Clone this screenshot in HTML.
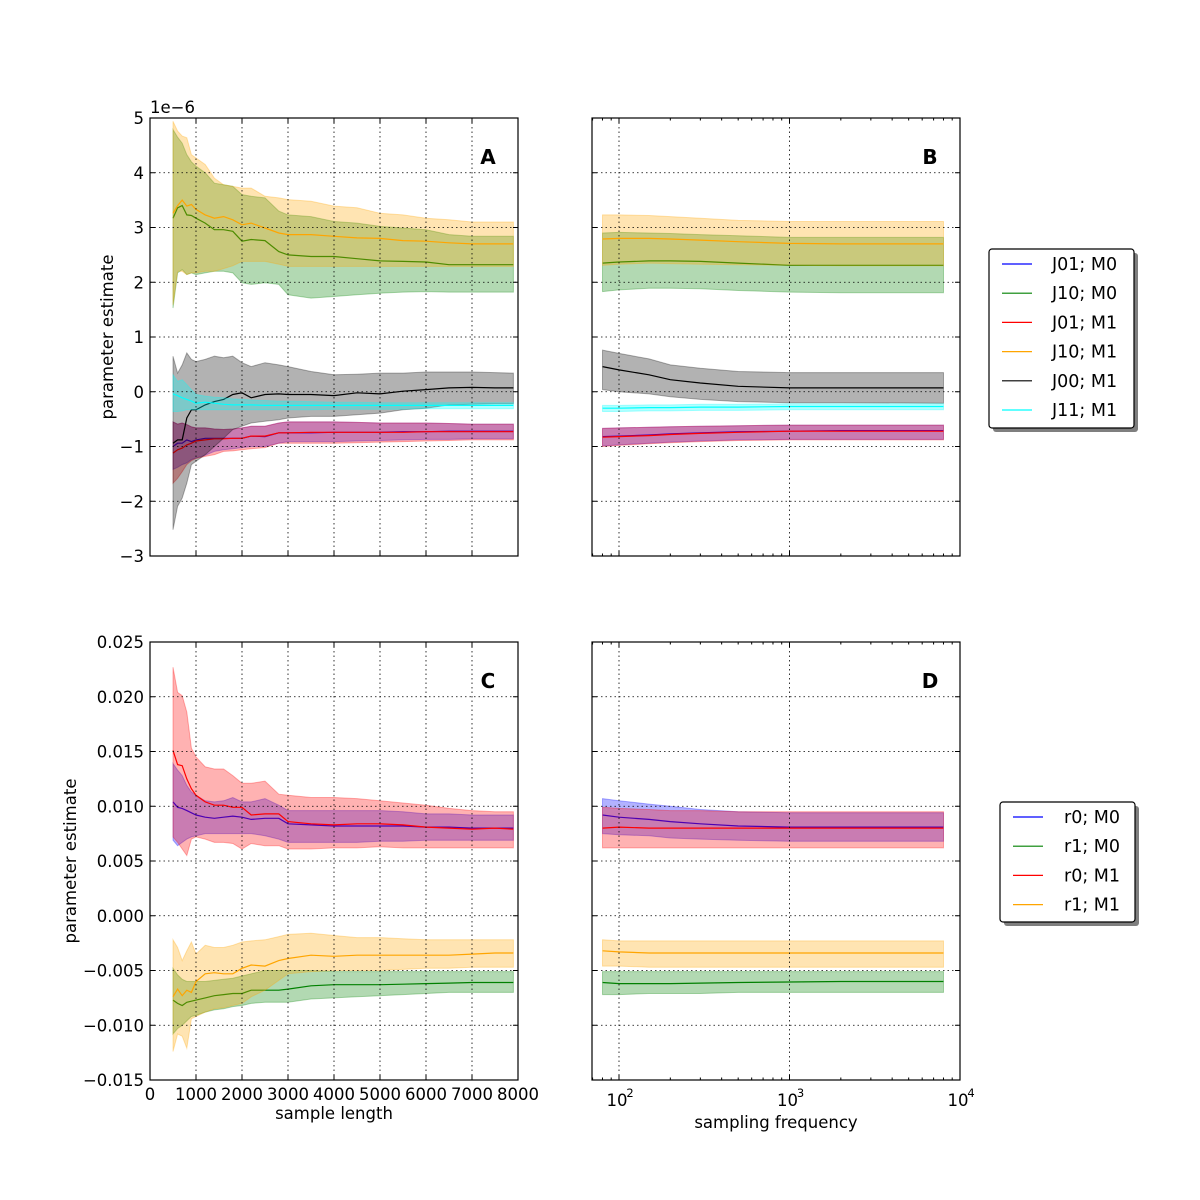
<!DOCTYPE html>
<html><head><meta charset="utf-8">
<style>
body{margin:0;background:#fff;}
svg{display:block;font-family:"DejaVu Sans","Liberation Sans",sans-serif;}
</style></head>
<body>
<svg id="fig" width="1200" height="1200" viewBox="0 0 1200 1200" xmlns="http://www.w3.org/2000/svg"></svg>
<script>
// ---- shared x data ----
const sampleLengths = [500,600,700,800,900,1000,1200,1400,1600,1800,2000,2200,2500,2800,3000,3500,4000,4500,5000,5500,6000,6500,7000,7500,7900];
const freqs = [80,100,150,200,300,500,1000,2000,8000];
// ---- Panel A (units 1e-6) ----
const aJ01M0Mean = [-1.0,-0.94,-0.94,-0.88,-0.91,-0.88,-0.85,-0.85,-0.85,-0.85,-0.85,-0.81,-0.82,-0.75,-0.75,-0.75,-0.74,-0.74,-0.74,-0.73,-0.73,-0.72,-0.72,-0.72,-0.72];
const aJ01M0Hi = [-0.55,-0.59,-0.57,-0.60,-0.64,-0.66,-0.66,-0.68,-0.69,-0.68,-0.66,-0.63,-0.63,-0.57,-0.55,-0.55,-0.55,-0.56,-0.57,-0.57,-0.57,-0.58,-0.59,-0.59,-0.59];
const aJ01M0Lo = [-1.42,-1.38,-1.33,-1.30,-1.24,-1.21,-1.16,-1.09,-1.06,-1.04,-1.02,-1.0,-1.0,-0.94,-0.91,-0.91,-0.91,-0.90,-0.89,-0.88,-0.87,-0.87,-0.86,-0.86,-0.86];
const aJ10M0Mean = [3.17,3.36,3.40,3.23,3.22,3.17,3.08,2.96,2.96,2.93,2.75,2.78,2.76,2.56,2.50,2.47,2.47,2.43,2.39,2.38,2.37,2.32,2.32,2.32,2.32];
const aJ10M0Hi = [4.79,4.65,4.54,4.33,4.20,4.12,4.00,3.81,3.78,3.75,3.60,3.57,3.54,3.30,3.23,3.20,3.11,3.08,3.02,2.99,2.96,2.87,2.84,2.84,2.84];
const aJ10M0Lo = [1.53,2.17,2.23,2.14,2.17,2.14,2.17,2.20,2.20,2.17,1.99,1.96,1.99,1.96,1.77,1.71,1.74,1.77,1.80,1.82,1.83,1.82,1.82,1.82,1.82];
const aJ01M1Mean = [-1.12,-1.06,-1.03,-0.97,-0.94,-0.90,-0.88,-0.86,-0.86,-0.85,-0.85,-0.81,-0.81,-0.75,-0.75,-0.74,-0.74,-0.74,-0.74,-0.74,-0.73,-0.73,-0.73,-0.73,-0.73];
const aJ01M1Hi = [-0.55,-0.59,-0.57,-0.60,-0.64,-0.66,-0.66,-0.68,-0.69,-0.68,-0.66,-0.63,-0.63,-0.57,-0.55,-0.55,-0.55,-0.56,-0.57,-0.57,-0.57,-0.58,-0.59,-0.59,-0.59];
const aJ01M1Lo = [-1.67,-1.58,-1.46,-1.33,-1.26,-1.22,-1.18,-1.15,-1.09,-1.08,-1.06,-1.04,-1.02,-0.94,-0.94,-0.94,-0.94,-0.93,-0.92,-0.91,-0.90,-0.89,-0.88,-0.88,-0.88];
const aJ10M1Mean = [3.26,3.40,3.50,3.39,3.42,3.33,3.23,3.17,3.20,3.14,3.05,3.08,2.99,2.90,2.87,2.87,2.84,2.81,2.80,2.76,2.75,2.72,2.70,2.70,2.70];
const aJ10M1Hi = [4.94,4.76,4.67,4.64,4.33,4.27,4.15,3.90,3.78,3.75,3.72,3.72,3.57,3.54,3.51,3.48,3.39,3.36,3.26,3.23,3.17,3.14,3.10,3.10,3.10];
const aJ10M1Lo = [1.59,2.20,2.20,2.14,2.17,2.17,2.20,2.20,2.25,2.30,2.38,2.38,2.38,2.33,2.29,2.29,2.29,2.29,2.29,2.29,2.29,2.29,2.29,2.29,2.29];
const aJ00M1Mean = [-0.94,-0.88,-0.88,-0.48,-0.33,-0.33,-0.24,-0.18,-0.14,-0.05,-0.02,-0.11,-0.05,-0.04,-0.05,-0.05,-0.07,-0.02,-0.04,0.01,0.04,0.07,0.08,0.07,0.07];
const aJ00M1Hi = [0.65,0.34,0.49,0.71,0.59,0.55,0.59,0.65,0.62,0.65,0.53,0.46,0.53,0.49,0.46,0.37,0.31,0.32,0.34,0.34,0.36,0.36,0.36,0.35,0.34];
const aJ00M1Lo = [-2.52,-2.09,-1.94,-1.67,-1.33,-1.27,-1.15,-1.0,-0.85,-0.69,-0.63,-0.57,-0.54,-0.51,-0.48,-0.45,-0.45,-0.42,-0.39,-0.33,-0.30,-0.24,-0.23,-0.22,-0.22];
const aJ11M1Mean = [-0.04,-0.07,-0.11,-0.14,-0.17,-0.21,-0.19,-0.21,-0.23,-0.24,-0.24,-0.24,-0.25,-0.25,-0.25,-0.25,-0.25,-0.25,-0.25,-0.25,-0.25,-0.25,-0.25,-0.25,-0.25];
const aJ11M1Hi = [0.31,0.19,0.22,0.13,0.04,-0.05,-0.08,-0.10,-0.11,-0.13,-0.14,-0.15,-0.16,-0.17,-0.17,-0.18,-0.19,-0.19,-0.2,-0.2,-0.2,-0.2,-0.2,-0.2,-0.2];
const aJ11M1Lo = [-0.36,-0.36,-0.35,-0.33,-0.33,-0.33,-0.33,-0.33,-0.33,-0.33,-0.33,-0.33,-0.33,-0.33,-0.33,-0.33,-0.32,-0.32,-0.32,-0.32,-0.31,-0.31,-0.31,-0.31,-0.31];
// ---- Panel B (units 1e-6) ----
const bJ01M0Mean = [-0.82,-0.81,-0.79,-0.77,-0.75,-0.73,-0.72,-0.71,-0.71];
const bJ01M0Hi = [-0.67,-0.66,-0.65,-0.64,-0.63,-0.62,-0.61,-0.61,-0.61];
const bJ01M0Lo = [-0.99,-0.97,-0.94,-0.92,-0.90,-0.88,-0.87,-0.87,-0.87];
const bJ10M0Mean = [2.35,2.37,2.39,2.39,2.38,2.35,2.31,2.31,2.31];
const bJ10M0Hi = [2.90,2.91,2.90,2.89,2.87,2.85,2.82,2.82,2.82];
const bJ10M0Lo = [1.83,1.86,1.89,1.89,1.88,1.85,1.82,1.81,1.81];
const bJ01M1Mean = [-0.83,-0.82,-0.80,-0.78,-0.76,-0.74,-0.72,-0.72,-0.72];
const bJ01M1Hi = [-0.67,-0.66,-0.65,-0.64,-0.63,-0.62,-0.61,-0.61,-0.61];
const bJ01M1Lo = [-1.0,-0.98,-0.95,-0.93,-0.91,-0.89,-0.88,-0.88,-0.88];
const bJ10M1Mean = [2.79,2.80,2.80,2.79,2.77,2.74,2.71,2.70,2.70];
const bJ10M1Hi = [3.23,3.23,3.22,3.20,3.17,3.13,3.11,3.11,3.11];
const bJ10M1Lo = [2.31,2.33,2.35,2.34,2.33,2.32,2.31,2.30,2.30];
const bJ00M1Mean = [0.46,0.40,0.31,0.22,0.16,0.10,0.07,0.07,0.07];
const bJ00M1Hi = [0.76,0.70,0.60,0.49,0.43,0.37,0.35,0.35,0.35];
const bJ00M1Lo = [0.04,0.0,-0.04,-0.09,-0.14,-0.18,-0.20,-0.20,-0.21];
const bJ11M1Mean = [-0.30,-0.30,-0.29,-0.29,-0.28,-0.28,-0.27,-0.27,-0.27];
const bJ11M1Hi = [-0.25,-0.25,-0.24,-0.24,-0.23,-0.23,-0.22,-0.22,-0.22];
const bJ11M1Lo = [-0.36,-0.36,-0.35,-0.35,-0.34,-0.34,-0.33,-0.33,-0.33];
// ---- Panel C (units 1e-3) ----
const cR0M0Mean = [10.4,9.9,9.8,9.6,9.4,9.2,9.0,8.9,9.0,9.1,9.0,8.8,8.9,8.9,8.4,8.3,8.2,8.2,8.2,8.2,8.1,8.1,8.0,8.0,8.0];
const cR0M0Hi = [13.9,13.3,12.8,11.9,11.3,11.0,10.5,10.4,10.5,10.8,10.4,10.4,10.7,10.1,9.6,9.6,9.6,9.6,9.6,9.5,9.3,9.3,9.2,9.2,9.2];
const cR0M0Lo = [6.9,6.4,6.7,7.0,7.2,7.3,7.5,7.5,7.5,7.5,7.5,7.5,7.3,7.0,6.7,6.7,6.7,6.7,6.8,6.8,6.9,6.9,6.9,6.9,6.9];
const cR1M0Mean = [-7.7,-8.0,-8.2,-7.9,-7.8,-7.7,-7.5,-7.3,-7.2,-7.1,-7.1,-6.8,-6.8,-6.8,-6.7,-6.4,-6.3,-6.3,-6.3,-6.25,-6.2,-6.15,-6.1,-6.1,-6.1];
const cR1M0Hi = [-4.8,-5.4,-5.8,-6.0,-6.0,-6.0,-6.0,-5.9,-5.8,-5.7,-5.5,-5.3,-5.0,-5.0,-5.0,-5.0,-5.1,-5.1,-5.1,-5.1,-5.1,-5.1,-5.1,-5.1,-5.1];
const cR1M0Lo = [-10.8,-10.3,-10.0,-9.6,-9.2,-9.1,-8.8,-8.6,-8.5,-8.3,-8.2,-8.0,-7.9,-7.9,-7.9,-7.6,-7.5,-7.4,-7.3,-7.2,-7.1,-7.0,-7.0,-7.0,-7.0];
const cR0M1Mean = [15.1,13.8,13.7,12.5,11.6,11.0,10.4,10.1,10.1,9.9,9.9,9.2,9.3,9.3,8.6,8.4,8.3,8.4,8.4,8.3,8.1,8.0,7.9,8.0,7.9];
const cR0M1Hi = [22.7,20.4,20.1,18.6,15.3,14.5,13.6,13.4,13.4,12.8,12.1,12.1,12.3,11.1,11.0,10.8,10.8,10.7,10.5,10.3,10.1,9.8,9.6,9.5,9.5];
const cR0M1Lo = [7.2,6.7,6.1,5.5,7.0,7.2,7.0,6.7,6.7,6.6,6.1,6.6,6.4,6.4,6.1,6.1,6.2,6.2,6.3,6.2,6.2,6.2,6.2,6.2,6.2];
const cR1M1Mean = [-7.4,-6.7,-7.3,-6.8,-7.0,-6.0,-5.3,-5.2,-5.3,-5.3,-4.8,-4.5,-4.6,-4.1,-3.9,-3.6,-3.7,-3.6,-3.6,-3.6,-3.6,-3.6,-3.5,-3.4,-3.4];
const cR1M1Hi = [-2.2,-2.9,-4.1,-3.2,-2.4,-3.5,-2.7,-2.9,-2.9,-2.7,-2.4,-2.3,-2.2,-1.9,-1.7,-1.6,-1.8,-2.0,-2.0,-2.1,-2.2,-2.2,-2.2,-2.2,-2.2];
const cR1M1Lo = [-12.4,-10.8,-11.0,-12.1,-9.4,-9.2,-8.8,-8.5,-8.4,-8.2,-8.0,-7.4,-6.8,-5.9,-5.3,-5.1,-5.0,-5.0,-5.0,-4.9,-4.8,-4.8,-4.7,-4.7,-4.7];
// ---- Panel D (units 1e-3) ----
const dR0M0Mean = [9.2,9.0,8.8,8.6,8.4,8.2,8.1,8.1,8.1];
const dR0M0Hi = [10.7,10.5,10.2,10.0,9.7,9.5,9.4,9.4,9.4];
const dR0M0Lo = [7.5,7.4,7.3,7.1,7.0,6.9,6.8,6.8,6.8];
const dR1M0Mean = [-6.1,-6.2,-6.2,-6.2,-6.15,-6.1,-6.05,-6.0,-6.0];
const dR1M0Hi = [-5.1,-5.1,-5.1,-5.1,-5.1,-5.1,-5.1,-5.1,-5.1];
const dR1M0Lo = [-7.2,-7.2,-7.1,-7.1,-7.1,-7.0,-7.0,-7.0,-7.0];
const dR0M1Mean = [8.0,8.1,8.0,8.0,8.0,8.0,8.0,8.0,8.0];
const dR0M1Hi = [9.9,9.8,9.7,9.6,9.6,9.5,9.5,9.5,9.5];
const dR0M1Lo = [6.2,6.2,6.2,6.2,6.2,6.2,6.2,6.2,6.2];
const dR1M1Mean = [-3.2,-3.3,-3.4,-3.4,-3.4,-3.4,-3.4,-3.4,-3.4];
const dR1M1Hi = [-2.2,-2.3,-2.3,-2.3,-2.3,-2.3,-2.3,-2.3,-2.3];
const dR1M1Lo = [-4.6,-4.6,-4.7,-4.7,-4.7,-4.7,-4.7,-4.7,-4.7];
// ---- tick labels ----
const aYTicks = [5,4,3,2,1,0,-1,-2,-3];
const aYTickLabels = ["5","4","3","2","1","0","\u22121","\u22122","\u22123"];
const cYTicks = [25,20,15,10,5,0,-5,-10,-15];
const cYTickLabels = ["0.025","0.020","0.015","0.010","0.005","0.000","\u22120.005","\u22120.010","\u22120.015"];
const xLinTicks = [0,1000,2000,3000,4000,5000,6000,7000,8000];
const xLogDecades = [2,3,4];
const legendTop = ["J01; M0","J10; M0","J01; M1","J10; M1","J00; M1","J11; M1"];
const legendBottom = ["r0; M0","r1; M0","r0; M1","r1; M1"];

const NS = "http://www.w3.org/2000/svg";
const fig = document.getElementById('fig');
function el(tag, attrs, parent, text){
  const e = document.createElementNS(NS, tag);
  for (const k in attrs) e.setAttribute(k, attrs[k]);
  if (text !== undefined) e.textContent = text;
  (parent||fig).appendChild(e);
  return e;
}
const COL = {blue:"#0000ff", green:"#008000", red:"#ff0000", orange:"#ffa500", black:"#000000", cyan:"#00ffff"};

// axes geometry
const L1=150,R1=518,L2=592,R2=960,T1=118,B1=556,T2=642,B2=1080;
const xLin = v => L1 + v*(R1-L1)/8000;
const xLog = v => 619 + (Math.log10(v)-2)*170.5;
const yTop = v => T1 + (5-v)*(B1-T1)/8;
const yBot = v => T2 + (25-v)*(B2-T2)/40;

function drawSeries(g, xs, mean, hi, lo, fx, fy, color, name){
  let pts = xs.map((x,i)=>fx(x).toFixed(1)+","+fy(hi[i]).toFixed(1));
  for (let i=xs.length-1;i>=0;i--) pts.push(fx(xs[i]).toFixed(1)+","+fy(lo[i]).toFixed(1));
  const band = el('polygon',{points:pts.join(' '),fill:color,'fill-opacity':0.3,stroke:color,'stroke-opacity':0.3,'stroke-width':1},g);
  
  
  const line = el('polyline',{points:xs.map((x,i)=>fx(x).toFixed(1)+","+fy(mean[i]).toFixed(1)).join(' '),fill:'none',stroke:color,'stroke-width':1.2},g);
  
  
}

function frame(g, l, t, r, b){
  el('rect',{x:l,y:t,width:r-l,height:b-t,fill:'none',stroke:'#000','stroke-width':1.2},g);
}
function hgrid(g,l,r,y){ el('line',{x1:l,x2:r,y1:y,y2:y,stroke:'#000','stroke-width':0.8,'stroke-dasharray':'1.5,3'},g);
  el('line',{x1:l,x2:l+5,y1:y,y2:y,stroke:'#000'},g); el('line',{x1:r-5,x2:r,y1:y,y2:y,stroke:'#000'},g);}
function vgrid(g,t,b,x,len){ el('line',{x1:x,x2:x,y1:t,y2:b,stroke:'#000','stroke-width':0.8,'stroke-dasharray':'1.5,3'},g);
  el('line',{x1:x,x2:x,y1:b-(len||5),y2:b,stroke:'#000'},g); el('line',{x1:x,x2:x,y1:t,y2:t+(len||5),stroke:'#000'},g);}
function minorLog(g,t,b){
  for (let d=1; d<4; d++) for (let m=2;m<10;m++){
    const v = m*Math.pow(10,d); const x = xLog(v);
    if (x<L2||x>R2) continue;
    el('line',{x1:x,x2:x,y1:b-2.5,y2:b,stroke:'#000'},g);
    el('line',{x1:x,x2:x,y1:t,y2:t+2.5,stroke:'#000'},g);
  }
}

function panel(name, l, t, r, b, isLog, yTicks, yLabels, fy, showXLabels, letter){
  const g = el('g',{});
  
  
  el('rect',{x:l,y:t,width:r-l,height:b-t,fill:'#fff'},g);
  const gs = el('g',{},g);
  return {g, gs, draw(){
    const ga = el('g',{},g);
    
    
    yTicks.forEach((v,i)=>{
      const y = fy(v);
      if (y>t+1 && y<b-1) hgrid(ga,l,r,y);
      if (yLabels){
        const tx = el('text',{x:l-6,y:y+6,'text-anchor':'end','font-size':16.5},ga,yLabels[i]);
        
        
      }
    });
    if (!isLog){
      xLinTicks.forEach(v=>{
        const x = xLin(v);
        if (x>l+1 && x<r-1) vgrid(ga,t,b,x);
        if (showXLabels){
          const tx = el('text',{x:x,y:b+20,'text-anchor':'middle','font-size':16.5},ga,String(v));
          
          
        }
      });
    } else {
      minorLog(ga,t,b);
      xLogDecades.forEach(d=>{
        const x = xLog(Math.pow(10,d));
        if (x>l+1 && x<r-1) vgrid(ga,t,b,x);
        if (showXLabels){
          const tx = el('text',{x:x-2,y:b+26,'text-anchor':'middle','font-size':16.5},ga,'10');
          
          
          const sp = el('text',{x:x+11,y:b+17,'text-anchor':'middle','font-size':11.5},ga,String(d));
          
          
        }
      });
    }
    frame(ga,l,t,r,b);
    const lt = el('text',{x:r-30,y:t+46,'text-anchor':'middle','font-size':20,'font-weight':'bold'},ga,letter);
    
    
  }};
}

// Panel A
const pA = panel('panel-a',L1,T1,R1,B1,false,aYTicks,aYTickLabels,yTop,false,'A');
drawSeries(pA.gs,sampleLengths,aJ01M0Mean,aJ01M0Hi,aJ01M0Lo,xLin,yTop,COL.blue,'a-j01-m0');
drawSeries(pA.gs,sampleLengths,aJ10M0Mean,aJ10M0Hi,aJ10M0Lo,xLin,yTop,COL.green,'a-j10-m0');
drawSeries(pA.gs,sampleLengths,aJ01M1Mean,aJ01M1Hi,aJ01M1Lo,xLin,yTop,COL.red,'a-j01-m1');
drawSeries(pA.gs,sampleLengths,aJ10M1Mean,aJ10M1Hi,aJ10M1Lo,xLin,yTop,COL.orange,'a-j10-m1');
drawSeries(pA.gs,sampleLengths,aJ00M1Mean,aJ00M1Hi,aJ00M1Lo,xLin,yTop,COL.black,'a-j00-m1');
drawSeries(pA.gs,sampleLengths,aJ11M1Mean,aJ11M1Hi,aJ11M1Lo,xLin,yTop,COL.cyan,'a-j11-m1');
pA.draw();
// Panel B
const pB = panel('panel-b',L2,T1,R2,B1,true,aYTicks,null,yTop,false,'B');
drawSeries(pB.gs,freqs,bJ01M0Mean,bJ01M0Hi,bJ01M0Lo,xLog,yTop,COL.blue,'b-j01-m0');
drawSeries(pB.gs,freqs,bJ10M0Mean,bJ10M0Hi,bJ10M0Lo,xLog,yTop,COL.green,'b-j10-m0');
drawSeries(pB.gs,freqs,bJ01M1Mean,bJ01M1Hi,bJ01M1Lo,xLog,yTop,COL.red,'b-j01-m1');
drawSeries(pB.gs,freqs,bJ10M1Mean,bJ10M1Hi,bJ10M1Lo,xLog,yTop,COL.orange,'b-j10-m1');
drawSeries(pB.gs,freqs,bJ00M1Mean,bJ00M1Hi,bJ00M1Lo,xLog,yTop,COL.black,'b-j00-m1');
drawSeries(pB.gs,freqs,bJ11M1Mean,bJ11M1Hi,bJ11M1Lo,xLog,yTop,COL.cyan,'b-j11-m1');
pB.draw();
// Panel C
const pC = panel('panel-c',L1,T2,R1,B2,false,cYTicks,cYTickLabels,yBot,true,'C');
drawSeries(pC.gs,sampleLengths,cR0M0Mean,cR0M0Hi,cR0M0Lo,xLin,yBot,COL.blue,'c-r0-m0');
drawSeries(pC.gs,sampleLengths,cR1M0Mean,cR1M0Hi,cR1M0Lo,xLin,yBot,COL.green,'c-r1-m0');
drawSeries(pC.gs,sampleLengths,cR0M1Mean,cR0M1Hi,cR0M1Lo,xLin,yBot,COL.red,'c-r0-m1');
drawSeries(pC.gs,sampleLengths,cR1M1Mean,cR1M1Hi,cR1M1Lo,xLin,yBot,COL.orange,'c-r1-m1');
pC.draw();
// Panel D
const pD = panel('panel-d',L2,T2,R2,B2,true,cYTicks,null,yBot,true,'D');
drawSeries(pD.gs,freqs,dR0M0Mean,dR0M0Hi,dR0M0Lo,xLog,yBot,COL.blue,'d-r0-m0');
drawSeries(pD.gs,freqs,dR1M0Mean,dR1M0Hi,dR1M0Lo,xLog,yBot,COL.green,'d-r1-m0');
drawSeries(pD.gs,freqs,dR0M1Mean,dR0M1Hi,dR0M1Lo,xLog,yBot,COL.red,'d-r0-m1');
drawSeries(pD.gs,freqs,dR1M1Mean,dR1M1Hi,dR1M1Lo,xLog,yBot,COL.orange,'d-r1-m1');
pD.draw();

// axis titles
let t;
t = el('text',{x:150,y:113,'font-size':16.5},fig,'1e\u22126');


t = el('text',{x:113,y:337,'text-anchor':'middle','font-size':16.5,transform:'rotate(-90 113 337)'},fig,'parameter estimate');


t = el('text',{x:76,y:861,'text-anchor':'middle','font-size':16.5,transform:'rotate(-90 76 861)'},fig,'parameter estimate');


t = el('text',{x:334,y:1119,'text-anchor':'middle','font-size':16.5},fig,'sample length');


t = el('text',{x:776,y:1128,'text-anchor':'middle','font-size':16.5},fig,'sampling frequency');



// legends
function legend(name, x, y, w, h, labels, colors, lx, tx, y0, dy){
  const g = el('g',{});
  
  
  el('rect',{x:x+4,y:y+4,width:w,height:h,fill:'#7f7f7f',rx:3},g);
  el('rect',{x:x,y:y,width:w,height:h,fill:'#fff',stroke:'#000','stroke-width':1.2,rx:3},g);
  labels.forEach((lab,i)=>{
    const yy = y0 + i*dy;
    const e = el('g',{},g);
    
    
    el('line',{x1:lx,x2:lx+30,y1:yy,y2:yy,stroke:colors[i],'stroke-width':1.2},e);
    el('text',{x:tx,y:yy+6,'font-size':17.5},e,lab);
  });
}
legend('legend-top',989,249,145,179,legendTop,[COL.blue,COL.green,COL.red,COL.orange,COL.black,COL.cyan],1002,1052,264,29.2);
legend('legend-bottom',1000,802,135,120,legendBottom,[COL.blue,COL.green,COL.red,COL.orange],1013,1064,817,29.2);
</script>
</body></html>
